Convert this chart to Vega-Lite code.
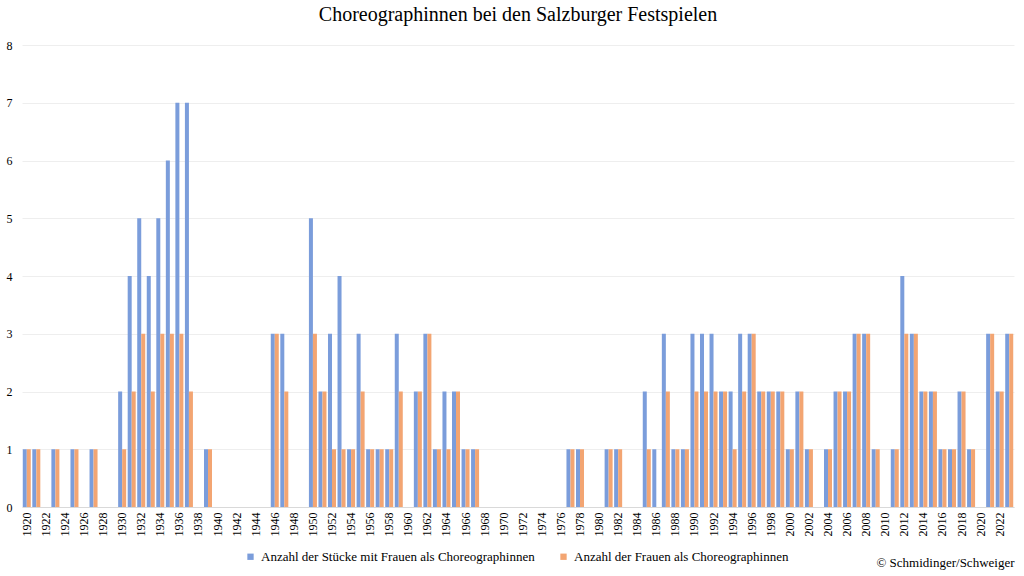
{
  "$schema": "https://vega.github.io/schema/vega-lite/v6.json",
  "width": 992,
  "height": 462,
  "autosize": "none",
  "padding": {"left": 22, "top": 45, "right": 10, "bottom": 69},
  "background": "white",
  "title": {
    "text": "Choreographinnen bei den Salzburger Festspielen",
    "fontSize": 20,
    "font": "Liberation Serif",
    "fontWeight": "normal",
    "color": "#000000",
    "anchor": "middle",
    "offset": 14
  },
  "data": {
    "values": [
      {"year": 1920, "stuecke": 1, "frauen": 1},
      {"year": 1921, "stuecke": 1, "frauen": 1},
      {"year": 1922, "stuecke": 0, "frauen": 0},
      {"year": 1923, "stuecke": 1, "frauen": 1},
      {"year": 1924, "stuecke": 0, "frauen": 0},
      {"year": 1925, "stuecke": 1, "frauen": 1},
      {"year": 1926, "stuecke": 0, "frauen": 0},
      {"year": 1927, "stuecke": 1, "frauen": 1},
      {"year": 1928, "stuecke": 0, "frauen": 0},
      {"year": 1929, "stuecke": 0, "frauen": 0},
      {"year": 1930, "stuecke": 2, "frauen": 1},
      {"year": 1931, "stuecke": 4, "frauen": 2},
      {"year": 1932, "stuecke": 5, "frauen": 3},
      {"year": 1933, "stuecke": 4, "frauen": 2},
      {"year": 1934, "stuecke": 5, "frauen": 3},
      {"year": 1935, "stuecke": 6, "frauen": 3},
      {"year": 1936, "stuecke": 7, "frauen": 3},
      {"year": 1937, "stuecke": 7, "frauen": 2},
      {"year": 1938, "stuecke": 0, "frauen": 0},
      {"year": 1939, "stuecke": 1, "frauen": 1},
      {"year": 1940, "stuecke": 0, "frauen": 0},
      {"year": 1941, "stuecke": 0, "frauen": 0},
      {"year": 1942, "stuecke": 0, "frauen": 0},
      {"year": 1943, "stuecke": 0, "frauen": 0},
      {"year": 1944, "stuecke": 0, "frauen": 0},
      {"year": 1945, "stuecke": 0, "frauen": 0},
      {"year": 1946, "stuecke": 3, "frauen": 3},
      {"year": 1947, "stuecke": 3, "frauen": 2},
      {"year": 1948, "stuecke": 0, "frauen": 0},
      {"year": 1949, "stuecke": 0, "frauen": 0},
      {"year": 1950, "stuecke": 5, "frauen": 3},
      {"year": 1951, "stuecke": 2, "frauen": 2},
      {"year": 1952, "stuecke": 3, "frauen": 1},
      {"year": 1953, "stuecke": 4, "frauen": 1},
      {"year": 1954, "stuecke": 1, "frauen": 1},
      {"year": 1955, "stuecke": 3, "frauen": 2},
      {"year": 1956, "stuecke": 1, "frauen": 1},
      {"year": 1957, "stuecke": 1, "frauen": 1},
      {"year": 1958, "stuecke": 1, "frauen": 1},
      {"year": 1959, "stuecke": 3, "frauen": 2},
      {"year": 1960, "stuecke": 0, "frauen": 0},
      {"year": 1961, "stuecke": 2, "frauen": 2},
      {"year": 1962, "stuecke": 3, "frauen": 3},
      {"year": 1963, "stuecke": 1, "frauen": 1},
      {"year": 1964, "stuecke": 2, "frauen": 1},
      {"year": 1965, "stuecke": 2, "frauen": 2},
      {"year": 1966, "stuecke": 1, "frauen": 1},
      {"year": 1967, "stuecke": 1, "frauen": 1},
      {"year": 1968, "stuecke": 0, "frauen": 0},
      {"year": 1969, "stuecke": 0, "frauen": 0},
      {"year": 1970, "stuecke": 0, "frauen": 0},
      {"year": 1971, "stuecke": 0, "frauen": 0},
      {"year": 1972, "stuecke": 0, "frauen": 0},
      {"year": 1973, "stuecke": 0, "frauen": 0},
      {"year": 1974, "stuecke": 0, "frauen": 0},
      {"year": 1975, "stuecke": 0, "frauen": 0},
      {"year": 1976, "stuecke": 0, "frauen": 0},
      {"year": 1977, "stuecke": 1, "frauen": 1},
      {"year": 1978, "stuecke": 1, "frauen": 1},
      {"year": 1979, "stuecke": 0, "frauen": 0},
      {"year": 1980, "stuecke": 0, "frauen": 0},
      {"year": 1981, "stuecke": 1, "frauen": 1},
      {"year": 1982, "stuecke": 1, "frauen": 1},
      {"year": 1983, "stuecke": 0, "frauen": 0},
      {"year": 1984, "stuecke": 0, "frauen": 0},
      {"year": 1985, "stuecke": 2, "frauen": 1},
      {"year": 1986, "stuecke": 1, "frauen": 0},
      {"year": 1987, "stuecke": 3, "frauen": 2},
      {"year": 1988, "stuecke": 1, "frauen": 1},
      {"year": 1989, "stuecke": 1, "frauen": 1},
      {"year": 1990, "stuecke": 3, "frauen": 2},
      {"year": 1991, "stuecke": 3, "frauen": 2},
      {"year": 1992, "stuecke": 3, "frauen": 2},
      {"year": 1993, "stuecke": 2, "frauen": 2},
      {"year": 1994, "stuecke": 2, "frauen": 1},
      {"year": 1995, "stuecke": 3, "frauen": 2},
      {"year": 1996, "stuecke": 3, "frauen": 3},
      {"year": 1997, "stuecke": 2, "frauen": 2},
      {"year": 1998, "stuecke": 2, "frauen": 2},
      {"year": 1999, "stuecke": 2, "frauen": 2},
      {"year": 2000, "stuecke": 1, "frauen": 1},
      {"year": 2001, "stuecke": 2, "frauen": 2},
      {"year": 2002, "stuecke": 1, "frauen": 1},
      {"year": 2003, "stuecke": 0, "frauen": 0},
      {"year": 2004, "stuecke": 1, "frauen": 1},
      {"year": 2005, "stuecke": 2, "frauen": 2},
      {"year": 2006, "stuecke": 2, "frauen": 2},
      {"year": 2007, "stuecke": 3, "frauen": 3},
      {"year": 2008, "stuecke": 3, "frauen": 3},
      {"year": 2009, "stuecke": 1, "frauen": 1},
      {"year": 2010, "stuecke": 0, "frauen": 0},
      {"year": 2011, "stuecke": 1, "frauen": 1},
      {"year": 2012, "stuecke": 4, "frauen": 3},
      {"year": 2013, "stuecke": 3, "frauen": 3},
      {"year": 2014, "stuecke": 2, "frauen": 2},
      {"year": 2015, "stuecke": 2, "frauen": 2},
      {"year": 2016, "stuecke": 1, "frauen": 1},
      {"year": 2017, "stuecke": 1, "frauen": 1},
      {"year": 2018, "stuecke": 2, "frauen": 2},
      {"year": 2019, "stuecke": 1, "frauen": 1},
      {"year": 2020, "stuecke": 0, "frauen": 0},
      {"year": 2021, "stuecke": 3, "frauen": 3},
      {"year": 2022, "stuecke": 2, "frauen": 2},
      {"year": 2023, "stuecke": 3, "frauen": 3}
    ]
  },
  "transform": [
    {"fold": ["stuecke", "frauen"], "as": ["series", "count"]}
  ],
  "mark": {"type": "bar"},
  "encoding": {
    "x": {
      "field": "year",
      "type": "ordinal",
      "scale": {"paddingInner": 0.16, "paddingOuter": 0.08},
      "axis": {
        "title": "© Schmidinger/Schweiger",
        "titleAnchor": "end",
        "titleAlign": "right",
        "titleFont": "Liberation Serif",
        "titleFontSize": 13,
        "titleFontWeight": "normal",
        "titleColor": "#000000",
        "titlePadding": 20,
        "labelAngle": -90,
        "labelExpr": "datum.value % 2 == 0 ? datum.label : ''",
        "labelFont": "Liberation Serif",
        "labelFontSize": 12,
        "labelColor": "#000000",
        "labelPadding": 5,
        "ticks": false,
        "domainColor": "#d9d9d9",
        "grid": false
      }
    },
    "xOffset": {
      "field": "series",
      "type": "nominal",
      "sort": ["stuecke", "frauen"],
      "scale": {"paddingInner": 0, "paddingOuter": 0}
    },
    "y": {
      "field": "count",
      "type": "quantitative",
      "scale": {"domain": [0, 8]},
      "axis": {
        "title": null,
        "tickCount": 8,
        "labelFont": "Liberation Serif",
        "labelFontSize": 12,
        "labelColor": "#000000",
        "labelPadding": 10,
        "ticks": false,
        "domain": false,
        "gridColor": "#eeeeee"
      }
    },
    "color": {
      "field": "series",
      "type": "nominal",
      "sort": ["stuecke", "frauen"],
      "scale": {"domain": ["stuecke", "frauen"], "range": ["#7B9DDB", "#F3A572"]},
      "legend": {
        "title": null,
        "orient": "none",
        "legendX": 222,
        "legendY": 505,
        "direction": "horizontal",
        "symbolType": "square",
        "symbolSize": 40,
        "symbolStrokeWidth": 0,
        "labelFont": "Liberation Serif",
        "labelFontSize": 13,
        "labelColor": "#000000",
        "labelLimit": 400,
        "columnPadding": 22,
        "labelExpr": "datum.value == 'stuecke' ? 'Anzahl der Stücke mit Frauen als Choreographinnen' : 'Anzahl der Frauen als Choreographinnen'"
      }
    }
  },
  "config": {"view": {"stroke": null}}
}
